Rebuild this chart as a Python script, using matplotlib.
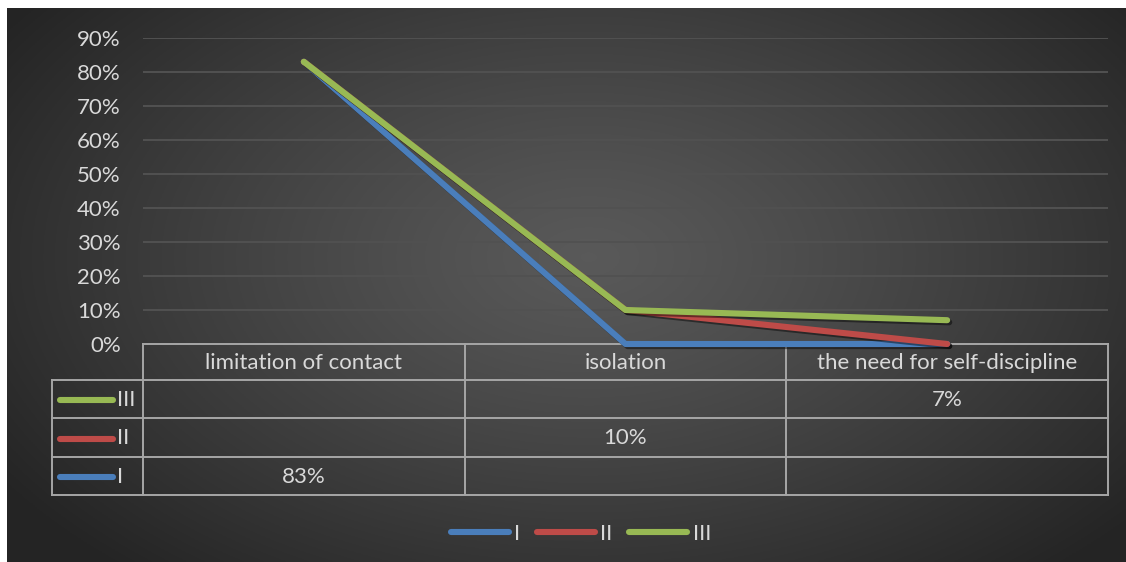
import numpy as np
import matplotlib
matplotlib.use("Agg")
import matplotlib.pyplot as plt
import matplotlib.patheffects as pe
from matplotlib.transforms import blended_transform_factory
from matplotlib.ticker import PercentFormatter
from matplotlib.lines import Line2D

plt.rcParams['font.family'] = ['Lato', 'DejaVu Sans']

# Data (blank cells are None)
categories = ["limitation of contact", "isolation", "the need for self-discipline"]
series_names = ["I", "II", "III"]
series_I = [0.83, None, None]
series_II = [None, 0.10, None]
series_III = [None, None, 0.07]
series_colors = ["#4a7ebb", "#be4b48", "#98b954"]
yticks = [0.0, 0.1, 0.2, 0.3, 0.4, 0.5, 0.6, 0.7, 0.8, 0.9]

TEXT = "#d9d9d9"
BORDER = "#a6a6a6"
FS = 16
W, H = 1126, 562

fig = plt.figure(figsize=(W / 100, H / 100), dpi=100)
fig.patch.set_facecolor("white")

# Radial gradient background panel
bg = fig.add_axes([7 / W, 0, 1 - 7 / W, (H - 8) / H])
bg.set_axis_off()
gx, gy = np.meshgrid(np.linspace(0, 1, 600), np.linspace(0, 1, 300))
cx, cy = 0.52, 0.45
r = np.sqrt(((gx - cx) / 0.62) ** 2 + ((gy - cy) / 0.75) ** 2)
r = np.clip(r, 0, 1)
light, dark = 0.35, 0.145
val = light + (dark - light) * r ** 1.2
img = np.dstack([val, val, val])
bg.imshow(img, aspect="auto", extent=(0, 1, 0, 1), origin="upper")
bg.set_xlim(0, 1)
bg.set_ylim(0, 1)

# Plot area
left, right, top, zero = 143, 1108, 38, 344
ax = fig.add_axes([left / W, (H - zero) / H, (right - left) / W, (zero - top) / H])
ax.set_facecolor("none")
ax.set_xlim(-0.5, len(categories) - 0.5)
ax.set_ylim(0, 0.9)
ax.set_yticks(yticks)
ax.yaxis.set_major_formatter(PercentFormatter(1.0, decimals=0))
ax.set_xticks([])
ax.tick_params(axis="y", length=0, pad=16, labelsize=FS, labelcolor=TEXT)
ax.grid(axis="y", color="#515151", linewidth=1.4)
ax.set_axisbelow(True)
for s in ax.spines.values():
    s.set_visible(False)

# Stacked lines
x = np.arange(len(categories))
raw = [series_I, series_II, series_III]
vals = np.array([[0.0 if v is None else v for v in s] for s in raw])
cum = np.cumsum(vals, axis=0)
shadow = [pe.SimpleLineShadow(offset=(1.5, -1.5), shadow_color="black", alpha=0.45), pe.Normal()]
handles = []
for i, (name, col) in enumerate(zip(series_names, series_colors)):
    ax.plot(x, cum[i], color=col, lw=4.4, solid_capstyle="round",
            solid_joinstyle="round", zorder=3 + i, path_effects=shadow,
            clip_on=False, label=name)
    handles.append(Line2D([], [], color=col, lw=4.4, solid_capstyle="round"))

# Data table below the plot
tr = blended_transform_factory(ax.transData, ax.transAxes)
ph = zero - top
px_per_unit = (right - left) / len(categories)


def px2x(p):
    return -0.5 + (p - left) / px_per_unit


def py2y(p):
    return -(p - zero) / ph


row_edges = [344, 380, 418, 457, 495]
tab_left = px2x(52)
x_end = len(categories) - 0.5
lk = dict(color=BORDER, lw=1.4, transform=tr, clip_on=False, zorder=2)
ax.plot([-0.5, x_end], [py2y(row_edges[0])] * 2, **lk)
for e in row_edges[1:]:
    ax.plot([tab_left, x_end], [py2y(e)] * 2, **lk)
for xv in np.arange(len(categories) + 1) - 0.5:
    ax.plot([xv, xv], [py2y(row_edges[0]), py2y(row_edges[-1])], **lk)
ax.plot([tab_left, tab_left], [py2y(row_edges[1]), py2y(row_edges[-1])], **lk)

tk = dict(color=TEXT, fontsize=FS, transform=tr, ha="center", va="center", clip_on=False)
hy = py2y((row_edges[0] + row_edges[1]) / 2 + 1)
for i, c in enumerate(categories):
    ax.text(i, hy, c, **tk)

# Rows listed top-down: III, II, I
for r_i, s_i in enumerate([2, 1, 0]):
    yc = py2y((row_edges[r_i + 1] + row_edges[r_i + 2]) / 2 + 1)
    ax.plot([px2x(60), px2x(113)], [yc, yc], color=series_colors[s_i], lw=4.4,
            solid_capstyle="round", transform=tr, clip_on=False, zorder=3)
    ax.text(px2x(117), yc, series_names[s_i], color=TEXT, fontsize=FS,
            transform=tr, ha="left", va="center", clip_on=False)
    for j, v in enumerate(raw[s_i]):
        if v is not None:
            ax.text(j, yc, f"{v * 100:.0f}%", **tk)

# Bottom legend
fig.legend(handles, series_names, loc="center", bbox_to_anchor=(581 / W, (H - 534) / H),
           ncol=3, frameon=False, fontsize=FS, labelcolor=TEXT, handlelength=2.6,
           handletextpad=0.25, columnspacing=0.75)

fig.savefig("out.png", dpi=100, facecolor=fig.get_facecolor())
